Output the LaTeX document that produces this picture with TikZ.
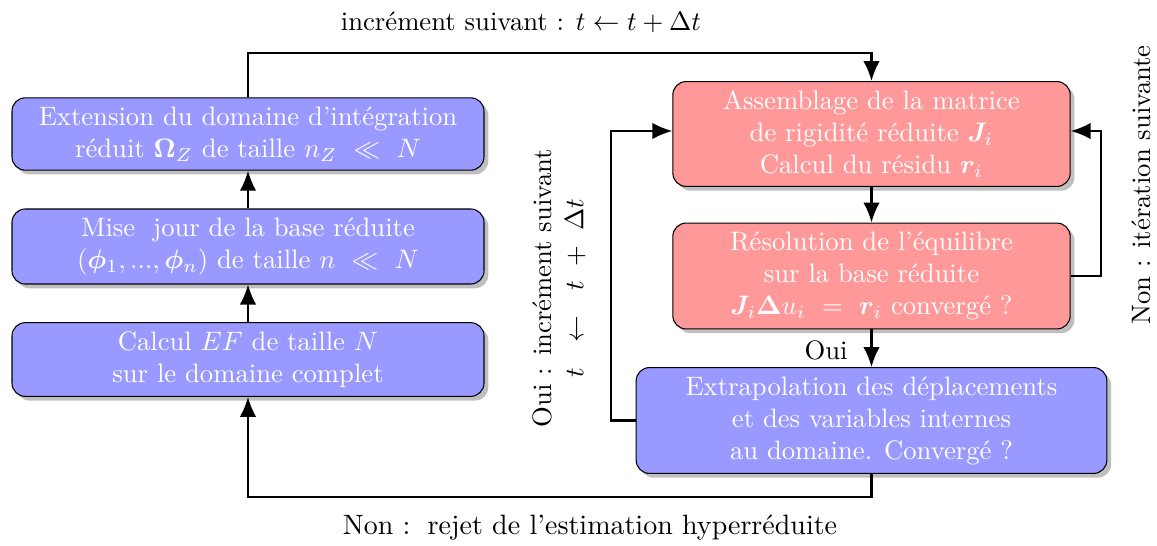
\documentclass[tikz,border=0pt]{standalone}
\usepackage{fontspec}
\usepackage{amsmath}
\usepackage{bm}
\usetikzlibrary{arrows.meta,shadows}

\tikzset{
  etape/.style={draw, rounded corners=5pt, text=white, align=center,
    drop shadow={shadow xshift=1.6pt, shadow yshift=-1.6pt}},
  etapebleue/.style={etape, fill=blue!40},
  etaperouge/.style={etape, fill=red!40},
  fleche/.style={thick, -{Latex[length=7.5pt,width=6.2pt]}}
}

\begin{document}
\begin{tikzpicture}[x=0.375pt, y=-0.375pt]
  %%%%% CADRE %%%%%
  \useasboundingbox (0,0) rectangle (1157,545);

  %%%%% COLONNE GAUCHE %%%%%
  \node[etapebleue, minimum width=177pt, minimum height=27pt] (extension) at (248,134)
    {Extension du domaine d'intégration\\réduit $\bm{\Omega}_Z$ de taille $n_Z\ \ll\ N$};
  \node[etapebleue, minimum width=177pt, minimum height=28pt] (miseajour) at (248,246.5)
    {Mise \ jour de la base réduite\\$(\bm{\phi}_1, ..., \bm{\phi}_n)$ de taille $n\ \ll\ N$};
  \node[etapebleue, minimum width=177pt, minimum height=27pt] (calculef) at (248,359.5)
    {Calcul $EF$ de taille $N$\\sur le domaine complet};

  %%%%% COLONNE DROITE %%%%%
  \node[etaperouge, minimum width=149pt, minimum height=39pt] (assemblage) at (871.5,134)
    {Assemblage de la matrice\\de rigidité réduite $\bm{J}_i$\\Calcul du résidu $\bm{r}_i$};
  \node[etaperouge, minimum width=149pt, minimum height=39pt] (resolution) at (871.5,276)
    {Résolution de l'équilibre\\sur la base réduite\\$\bm{J}_i\bm{\Delta} u_i\ =\ \bm{r}_i$ convergé ?};
  \node[etapebleue, minimum width=176.5pt, minimum height=38.5pt] (extrapolation) at (871.5,420.5)
    {Extrapolation des déplacements\\et des variables internes\\au domaine. Convergé ?};

  %%%%% COINS %%%%%
  \coordinate (hautg) at (248,53);
  \coordinate (hautd) at (871.5,53);
  \coordinate (basd) at (871.5,497);
  \coordinate (basg) at (248,497);
  \coordinate (ouig) at (611,420.5);
  \coordinate (ouih) at (611,131);
  \coordinate (nond) at (1101,276);
  \coordinate (nonh) at (1101,131);

  %%%%% FLECHES %%%%%
  \draw[fleche] (calculef) -- (miseajour);
  \draw[fleche] (miseajour) -- (extension);
  \draw[fleche] (extension.north) -- (hautg) -- (hautd) -- (assemblage.north);
  \draw[fleche] (assemblage) -- (resolution);
  \draw[fleche] (resolution) -- (extrapolation);
  \draw[fleche] (extrapolation.south) -- (basd) -- (basg) -- (calculef.south);
  \draw[fleche] (extrapolation.west) -- (ouig) -- (ouih) -- (assemblage.west |- ouih);
  \draw[fleche] (resolution.east) -- (nond) -- (nonh) -- (assemblage.east |- nonh);

  %%%%% ETIQUETTES %%%%%
  \node (incr) at (521,22) {incrément suivant : $t \leftarrow t + \Delta t$};
  \node[font=\fontsize{10.5pt}{13pt}\selectfont] (rejet) at (590,528)
    {Non :\, rejet de l'estimation hyperréduite};
  \node (oui) at (826,350) {Oui};
  \node[rotate=90, align=center] (ouiincr) at (559,288)
    {Oui : incrément suivant\\$t\ \ \leftarrow\ \ t\ +\ \Delta t$};
  \node[rotate=90] (noniter) at (1141,185) {Non : itération suivante};
\end{tikzpicture}
\end{document}
